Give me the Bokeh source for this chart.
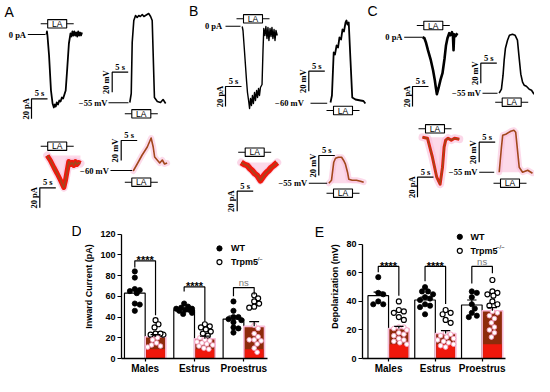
import math
from bokeh.plotting import figure
from bokeh.layouts import column, row
from bokeh.models import Range1d, FixedTicker
from bokeh.embed import file_html
from bokeh.resources import INLINE
from bokeh.core.properties import value

# ---------------- data ----------------
groups = ["Males", "Estrus", "Proestrus"]

# Panel D: inward current (pA)
d_wt_mean = [63, 47, 38]
d_wt_sem = [3.5, 1.2, 3.0]
d_ko_mean = [21, 19, 31]
d_ko_sem = [2.0, 2.5, 4.5]
d_wt_males = [84, 78, 66, 67, 65, 63, 52, 53, 46]
d_wt_estrus = [53, 50, 49, 48, 48, 47, 47, 46, 44, 43]
d_wt_proestrus = [55, 46, 40, 40, 38, 37, 35, 30, 29, 25]
d_ko_males = [37, 33, 30, 24, 23, 23, 24, 20, 18, 15, 13, 12, 11]
d_ko_estrus = [33, 31, 30, 28, 26, 24, 22, 20, 18, 17, 16, 15, 14, 13, 12, 10, 9]
d_ko_proestrus = [61, 58, 55, 53, 50, 49, 32, 29, 24, 21, 18, 18, 17, 14, 10, 6]

# Panel E: depolarization (mV)
e_wt_mean = [44, 41, 37.5]
e_wt_sem = [2.5, 2.0, 3.5]
e_ko_mean = [21, 17.5, 33.5]
e_ko_sem = [1.5, 2.0, 2.2]
e_wt_males = [57, 46, 45, 38, 38, 40]
e_wt_estrus = [50, 47, 47, 45, 43, 41, 42, 38, 37, 36, 31]
e_wt_proestrus = [47, 46, 43, 38, 35, 30, 29, 32]
e_ko_males = [40, 34, 33, 32, 29, 27, 22, 21, 22, 20, 18, 17, 16, 14, 13, 12, 11, 10]
e_ko_estrus = [34, 32, 31, 27, 25, 18, 17, 16, 15, 14, 13, 12, 11, 10, 9, 8]
e_ko_proestrus = [55, 47, 45, 46, 44, 40, 38, 37, 33, 32, 30, 28, 25, 22, 20, 18, 15]

sig_d = ["****", "****", "ns"]
sig_e = ["****", "****", "ns"]

# Traces: time (s), value relative to baseline (pA or mV)
a1_t = [0, 0.15, 0.3, 0.8, 1.4, 1.9, 2.3, 2.6, 2.9, 3.2, 3.6, 4.0, 4.4, 4.8, 5.2, 5.6, 6.0, 6.5, 7.0, 7.5,
        7.8, 8.1, 8.4, 8.7, 9.0, 9.3, 9.6, 9.9, 10.2, 10.5, 10.8, 11.1]
a1_v = [0, 3, -1, -21, -56, -69, -73, -70, -72, -68, -70, -66, -67, -63, -64, -60, -56, -33, -9, 1,
        -2, 3, -1, 3, -1, 2, -2, 3, -1, 2, -1, 2]
a2_t = [0, 0.45, 0.75, 1.25, 1.8, 2.3, 2.8, 3.3, 3.9, 4.4, 4.9, 5.4, 5.9, 6.5, 7.0, 7.7, 8.6, 9.6, 10.4, 11.2]
a2_v = [0, 9, 60, 82, 87, 85, 87, 86, 88, 86, 87, 88, 89, 86, 82, 5, 1, 0, 3, -1]
a3_t = [0, 1.0, 2.1, 3.1, 4.2, 5.2, 5.7, 6.75, 7.3, 7.8, 8.3, 8.8, 9.3, 9.8, 10.4]
a3_v = [0, -5, -12, -18, -25, -32, -25, -6, -9, -7, -10, -6, -9, -7, -8]
a4_t = [0, 1.25, 2.8, 4.4, 5.6, 6.25, 6.7, 7.5, 8.3, 9.1, 9.8, 10.6]
a4_v = [0, 7, 16, 24, 33, 24, 14, 11, 8, 11, 7, 8]

b1_t = [0, 0.25, 0.7, 1.35, 1.65, 2.0, 2.3, 2.6, 2.9, 3.2, 3.5, 3.85, 4.15, 4.5, 4.8, 5.1, 5.4, 5.7, 6.2, 6.5,
        6.75, 7.1, 7.4, 7.75, 8.05, 8.35, 8.7, 9.0, 9.3, 9.6, 9.95, 10.25, 10.55, 10.95]
b1_v = [0, -4, -24, -54, -66, -74, -82, -72, -79, -69, -77, -66, -74, -64, -71, -62, -69, -61, -58, -24,
        -2, -9, 0, -12, -1, -14, -2, -10, -1, -12, -3, -14, -4, -9]
b2_t = [0, 0.45, 1.0, 1.4, 1.9, 2.35, 2.8, 3.3, 3.75, 4.2, 4.7, 5.0, 5.3, 5.7, 6.25, 6.8, 7.8, 9.4, 10.3, 10.9]
b2_v = [0, 7, 50, 48, 57, 55, 65, 63, 73, 71, 80, 82, 78, 80, 42, 5, 3, 2, 1.5, -1]
b3_t = [0, 1.0, 1.9, 2.7, 3.4, 4.2, 5.0, 6.0, 7.1, 7.9, 8.6, 9.4, 10.2, 11.25]
b3_v = [0, -2, -3, -6, -8, -11, -13, -18, -13, -10, -8, -5, -3, 0]
b4_t = [0, 0.85, 1.55, 2.1, 3.0, 4.0, 4.6, 5.2, 5.85, 6.25, 7.3, 8.65, 9.9, 10.9]
b4_v = [0, 3, 21, 25, 26, 26, 23, 19, 11, 4, 3, 3, 2, 1]

c1_t = [0, 0.6, 1.05, 1.7, 2.6, 3.3, 3.85, 4.2, 4.5, 5.0, 5.6, 6.25, 6.9, 7.35, 7.8, 8.35, 8.75, 9.2, 9.5,
        9.7, 9.9, 10.3, 10.9]
c1_v = [0, -1, -5, -13, -23, -33, -43, -51, -57, -51, -43, -36, -21, -8, -1, 4, 2, 5, 2, -13, 3, 1, 4]
c2_t = [0, 0.7, 1.2, 1.55, 1.95, 2.6, 3.2, 4.15, 4.95, 5.7, 6.15, 6.75, 7.3, 7.8, 8.5, 9.4, 10.1, 10.9]
c2_v = [0, 4, 18, 33, 45, 53, 58, 59, 58, 53, 38, 19, 11, 8, 7, 4, 3, -1]
c3_t = [0, 1.55, 3.1, 4.45, 5.5, 6.25, 6.75, 7.25, 8.0, 9.0, 10.0, 11.5]
c3_v = [0, -1, -20, -40, -47, -30, -10, -3, -1, -3, -1, -2]
c4_t = [0, 0.7, 1.1, 2.05, 3.6, 4.6, 5.15, 6.25, 7.3, 8.9, 10.4]
c4_v = [0, 25, 37, 38, 41, 42, 40, 5, 0, 2, -1]

# ---------------- styles ----------------
SANS = "Liberation Sans"
SERIF = "Liberation Serif"
BROWN = "#8e2b0b"
RED = "#f0180c"
PINK = "#f9bcd9"
TR_BROWN = "#a2471c"
SEC = 3.2    # px per second in trace panels
UNIT = 1.0   # px per pA / mV
CS = -13     # horizontal shift of panel C
TOP_H = 214
BOT_H = 162


def base_fig(w, h, xr, yr, **kw):
    f = figure(width=w, height=h, x_range=Range1d(*xr), y_range=Range1d(*yr), output_backend="svg",
               toolbar_location=None, title_location=None, **kw)
    f.grid.visible = False
    f.outline_line_color = None
    return f


# ---------------- top: traces ----------------
top = base_fig(534, TOP_H, (0, 534), (-TOP_H, 0), min_border=0, x_axis_location=None, y_axis_location=None)


def place(t, v, x0, y0):
    return [x0 + a * SEC for a in t], [-(y0 - b * UNIT) for b in v]


def trace(t, v, x0, y0, kind, width=1.4, red_w=5, shade=False):
    xs, ys = place(t, v, x0, y0)
    if shade:
        top.varea(x=xs, y1=ys, y2=[-y0] * len(xs), fill_color=PINK, fill_alpha=0.55)
    if kind == "black":
        top.line(xs, ys, line_color="black", line_width=width, line_join="round")
    elif kind == "red":
        top.line(xs, ys, line_color=PINK, line_width=8, line_join="round", line_cap="round", alpha=0.6)
        top.line(xs, ys, line_color=RED, line_width=red_w, line_join="round")
        top.line(xs, ys, line_color=TR_BROWN, line_width=1.5, line_join="round")
    else:
        top.line(xs, ys, line_color=PINK, line_width=6, line_join="round", line_cap="round", alpha=0.55)
        top.line(xs, ys, line_color=TR_BROWN, line_width=1.6, line_join="round")


trace(a1_t, a1_v, 46, 34, "black", 1.8)
trace(a2_t, a2_v, 129.3, 102, "black", 1.6)
trace(a3_t, a3_v, 46.7, 155, "red", red_w=5, shade=True)
trace(a4_t, a4_v, 132.7, 170.5, "brown")
trace(b1_t, b1_v, 241.7, 26, "black", 1.4)
trace(b2_t, b2_v, 330, 102, "black", 1.8)
trace(b3_t, b3_v, 240.7, 162, "red", red_w=6, shade=True)
trace(b4_t, b4_v, 328.3, 182.7, "brown", shade=True)
trace(c1_t, c1_v, 435 + CS, 36.7, "black", 2.6)
trace(c2_t, c2_v, 511.7 + CS, 92.7, "black", 1.6)
trace(c3_t, c3_v, 435 + CS, 136.7, "red", red_w=3, shade=True)
trace(c4_t, c4_v, 511.7 + CS, 171.7, "brown", shade=True)

serif_x, serif_y, serif_t, serif_align = [], [], [], []
rot_x, rot_y, rot_t = [], [], []


def scalebar(cx, cy, unit):
    top.line([cx + 5 * SEC, cx, cx], [-cy, -cy, -(cy + 20 * UNIT)], line_color="black", line_width=1.2)
    serif_x.append(cx + 2.5 * SEC)
    serif_y.append(-(cy - 5.5))
    serif_t.append("5 s")
    serif_align.append("center")
    rot_x.append(cx - 6)
    rot_y.append(-(cy + 10))
    rot_t.append("20 " + unit)


for cx, cy, u in [(31, 98.3, "pA"), (111.7, 71.7, "mV"), (39.3, 187.3, "pA"), (120.7, 140, "mV"),
                  (225, 86, "pA"), (308.3, 70.7, "mV"), (236.7, 190.7, "pA"), (318.3, 155, "mV"),
                  (425 + CS, 86, "pA"), (493.3 + CS, 62.7, "mV"), (430 + CS, 176.7, "pA"),
                  (491.7 + CS, 141.7, "mV")]:
    scalebar(cx, cy, u)


def baseline(label, rx, y, lx1, lx2):
    serif_x.append(rx)
    serif_y.append(-y)
    serif_t.append(label)
    serif_align.append("right")
    top.line([lx1, lx2], [-y, -y], line_color="black", line_width=1.1)


baseline("0 pA", 25.5, 34, 27.3, 45)
baseline("\u221255 mV", 107, 102.3, 108, 128)
baseline("\u221260 mV", 108.3, 170, 110, 131.7)
baseline("0 pA", 221.7, 25.7, 225, 240)
baseline("\u221260 mV", 303.3, 102.7, 310, 326.7)
baseline("\u221255 mV", 306.7, 182.7, 308.3, 326.7)
baseline("0 pA", 415 + CS, 36.7, 416.7 + CS, 435 + CS)
baseline("\u221255 mV", 493.3 + CS, 92.7, 495 + CS, 510 + CS)
baseline("\u221255 mV", 490 + CS, 171.7, 491.7 + CS, 506.7 + CS)

la_x, la_y = [], []


def la_marker(cx, y):
    top.line([cx - 16.5, cx + 16.5], [-y, -y], line_color="black", line_width=1.1)
    top.rect(x=[cx], y=[-y], width=19, height=8.4, fill_color="white", line_color="black", line_width=1.1)
    la_x.append(cx)
    la_y.append(-y)


for cx, y in [(56.7, 23.3), (140.8, 113.3), (56.7, 145.7), (140.8, 181.7),
              (252.5, 18.3), (342.5, 110), (254.2, 151.7), (342.5, 192.7),
              (445.8 + CS, 25), (524.2 + CS, 101.7), (447.5 + CS, 128.3), (522.5 + CS, 182.7)]:
    la_marker(cx, y)

top.text(la_x, la_y, text=["LA"] * len(la_x), text_font=value(SANS), text_font_size="8.5px",
         text_align="center", text_baseline="middle", text_color="black")

for al in ["center", "right"]:
    idx = [i for i in range(len(serif_t)) if serif_align[i] == al]
    top.text([serif_x[i] for i in idx], [serif_y[i] for i in idx], text=[serif_t[i] for i in idx],
             text_font=value(SERIF), text_font_style="bold", text_font_size="8.5px",
             text_align=al, text_baseline="middle", text_color="black")

top.text(rot_x, rot_y, text=rot_t, angle=math.pi / 2, text_font=value(SERIF), text_font_style="bold",
         text_font_size="8.5px", text_align="center", text_baseline="middle", text_color="black")

top.text([4, 188.5, 380 + CS], [-11, -10.5, -10.5], text=["A", "B", "C"], text_font=value(SANS),
         text_font_size="14px", text_align="left", text_baseline="middle", text_color="black")


# ---------------- bar panels ----------------
def swarm(vals, center, pxx, pxy, dmin=5.0, maxoff=8.5):
    placed = []
    res = [0.0] * len(vals)
    order = sorted(range(len(vals)), key=lambda i: -vals[i])
    cands = [0.0]
    j = 1
    while j * 1.0 <= maxoff:
        cands += [j * 1.0, -j * 1.0]
        j += 1
    for i in order:
        yy = vals[i] * pxy
        best = None
        for c in cands:
            if all((c - px) ** 2 + (yy - py) ** 2 >= dmin ** 2 for px, py in placed):
                best = c
                break
        if best is None:
            best = max(cands, key=lambda c: min((c - px) ** 2 + (yy - py) ** 2 for px, py in placed))
        placed.append((best, yy))
        res[i] = center + best / pxx
    return res


def spacer(w, letter, lx, ly):
    s = base_fig(w, BOT_H, (0, w), (-BOT_H, 0), min_border=0, x_axis_location=None, y_axis_location=None)
    s.text([lx], [-ly], text=[letter], text_font=value(SANS), text_font_size="14px",
           text_align="center", text_baseline="middle", text_color="black")
    return s


def bar_panel(width, bl, br, xr, ytop, ymax, ystep, ylabel, wt_mean, wt_sem, ko_mean, ko_sem,
              wt_pts, ko_pts, half, bw, pxx, pxy, red_h, brackets, sigs, leg):
    f = base_fig(width, BOT_H, xr, (0, ytop), min_border_left=bl, min_border_right=br,
                 min_border_top=0, min_border_bottom=0)
    xa = f.xaxis[0]
    xa.ticker = FixedTicker(ticks=[0, 1, 2])
    xa.major_label_overrides = {0: groups[0], 1: groups[1], 2: groups[2]}
    xa.major_tick_out = 3
    xa.major_tick_in = 0
    xa.minor_tick_line_color = None
    xa.axis_line_width = 1.3
    xa.major_tick_line_width = 1.2
    xa.major_label_standoff = 1
    xa.major_label_text_font = SANS
    xa.major_label_text_font_style = "bold"
    xa.major_label_text_font_size = "10px"
    xa.major_label_text_color = "black"
    ya = f.yaxis[0]
    ya.ticker = FixedTicker(ticks=list(range(0, ymax + 1, ystep)))
    ya.bounds = (0, ymax)
    ya.major_tick_out = 4
    ya.major_tick_in = 0
    ya.minor_tick_line_color = None
    ya.axis_line_width = 1.3
    ya.major_tick_line_width = 1.2
    ya.major_label_standoff = 2
    ya.major_label_text_font = SANS
    ya.major_label_text_font_style = "bold"
    ya.major_label_text_font_size = "9px"
    ya.major_label_text_color = "black"
    ya.axis_label = ylabel
    ya.axis_label_text_font = SANS
    ya.axis_label_text_font_style = "bold"
    ya.axis_label_text_font_size = "9px"
    ya.axis_label_text_color = "black"
    ya.axis_label_standoff = 3

    xs_wt = [i - half for i in range(3)]
    xs_ko = [i + half for i in range(3)]
    f.vbar(x=xs_wt, top=wt_mean, bottom=0, width=bw, fill_color="white", line_color="black", line_width=1.2)
    f.vbar(x=xs_ko, top=ko_mean, bottom=0, width=bw, fill_color=BROWN, line_color=PINK, line_width=1.6)
    f.vbar(x=xs_ko, top=[min(red_h, m) for m in ko_mean], bottom=0, width=bw * 0.9, fill_color=RED,
           line_color=None)

    wx, wy, kx_in, ky_in, kx_out, ky_out = [], [], [], [], [], []
    for g in range(3):
        wx += swarm(wt_pts[g], xs_wt[g], pxx, pxy)
        wy += wt_pts[g]
        kxs = swarm(ko_pts[g], xs_ko[g], pxx, pxy)
        for xv, v in zip(kxs, ko_pts[g]):
            if v > ko_mean[g] + 1:
                kx_out.append(xv)
                ky_out.append(v)
            else:
                kx_in.append(xv)
                ky_in.append(v)
    f.scatter(wx, wy, size=5.2, fill_color="black", line_color="black", line_width=0.8)
    f.scatter(kx_out, ky_out, size=5.0, fill_color="white", line_color="black", line_width=1.2)
    f.scatter(kx_in, ky_in, size=4.6, fill_color="white", line_color="#f4a0c0", line_width=0.9)
    for xs, m, s in [(xs_wt, wt_mean, wt_sem), (xs_ko, ko_mean, ko_sem)]:
        tops = [a + b for a, b in zip(m, s)]
        f.segment(x0=xs, y0=m, x1=xs, y1=tops, line_color="black", line_width=1.2)
        f.segment(x0=[x - 0.1 for x in xs], y0=tops, x1=[x + 0.1 for x in xs], y1=tops,
                  line_color="black", line_width=1.2)

    for g in range(3):
        by, ly, ry = brackets[g]
        f.line([xs_wt[g], xs_wt[g], xs_ko[g], xs_ko[g]], [ly, by, by, ry], line_color="black", line_width=1.2)
        if sigs[g] == "ns":
            f.text([g], [by + 5.0 / pxy], text=["ns"], text_font=value(SANS), text_font_size="9.5px",
                   text_align="center", text_baseline="alphabetic", text_color="#7a7a7a")
        else:
            f.text([g], [by + 0.5 / pxy], text=[sigs[g]], text_font=value(SANS), text_font_style="bold",
                   text_font_size="11px", text_align="center", text_baseline="alphabetic", text_color="black")

    lx, ltx, ly1, ly2, supx, supy = leg
    f.scatter([lx], [ly1], size=5.2, fill_color="black", line_color="black")
    f.scatter([lx], [ly2], size=5.0, fill_color="white", line_color="black", line_width=1.2)
    f.text([ltx, ltx], [ly1, ly2], text=["WT", "Trpm5"], text_font=value(SANS), text_font_style="bold",
           text_font_size="9px", text_align="left", text_baseline="middle", text_color="black")
    f.text([supx], [supy], text=["\u2212/\u2212"], text_font=value(SANS), text_font_size="6px",
           text_align="left", text_baseline="middle", text_color="black")
    return f


# layout geometry (screen px, top of bottom row at y = TOP_H)
AX0 = 354.0          # y of the x-axis line on the page
D_L, D_R = 119.0, 267.0
E_L, E_R = 362.0, 505.0
D_PXX = (D_R - D_L) / 2.96
E_PXX = (E_R - E_L) / 3.057
D_PXY = (AX0 - 233.0) / 120.0
E_PXY = (AX0 - 243.0) / 80.0


def dx(px):
    return -0.48 + (px - D_L) / D_PXX


def dy(py):
    return (AX0 - py) / D_PXY


def ex(px):
    return -0.557 + (px - E_L) / E_PXX


def ey(py):
    return (AX0 - py) / E_PXY


SPD_W = 81
D_BL, D_BR = int(D_L - SPD_W), 20
D_W = int(D_R) + D_BR - SPD_W
E_START = 324
SPE_W = E_START - (SPD_W + D_W)
E_BL = int(E_L - E_START)
E_W = 534 - E_START
E_BR = int(E_W - E_BL - (E_R - E_L))

fig_d = bar_panel(D_W, D_BL, D_BR, (-0.48, 2.48), (BOT_H - 22) / D_PXY, 120, 20, "Inward Current (pA)",
                  d_wt_mean, d_wt_sem, d_ko_mean, d_ko_sem,
                  [d_wt_males, d_wt_estrus, d_wt_proestrus], [d_ko_males, d_ko_estrus, d_ko_proestrus],
                  0.21, 0.42, D_PXX, D_PXY, 9,
                  [(94.2, 87.8, 41.7), (69.0, 64.6, 35.7), (68.4, 60.0, 61.7)],
                  sig_d, (dx(218.3), dx(230), dy(247), dy(260.3), dx(253.5), dy(257)))

fig_e = bar_panel(E_W, E_BL, E_BR, (-0.557, 2.5), (BOT_H - 22) / E_PXY, 80, 20, "Depolarization (mV)",
                  e_wt_mean, e_wt_sem, e_ko_mean, e_ko_sem,
                  [e_wt_males, e_wt_estrus, e_wt_proestrus], [e_ko_males, e_ko_estrus, e_ko_proestrus],
                  0.22, 0.44, E_PXX, E_PXY, 10,
                  [(64.5, 60.4, 43.9), (64.5, 54.2, 38.2), (64.5, 52.6, 59.8)],
                  sig_e, (ex(459.3), ex(470), ey(235.7), ey(249.3), ex(495.5), ey(246)))

sp_d = spacer(SPD_W, "D", 76, 233 - TOP_H)
sp_e = spacer(SPE_W, "E", SPE_W - 5, 234 - TOP_H)

layout = column(top, row(sp_d, fig_d, sp_e, fig_e, spacing=0), spacing=0)
open("out.html", "w").write(file_html(layout, INLINE))
